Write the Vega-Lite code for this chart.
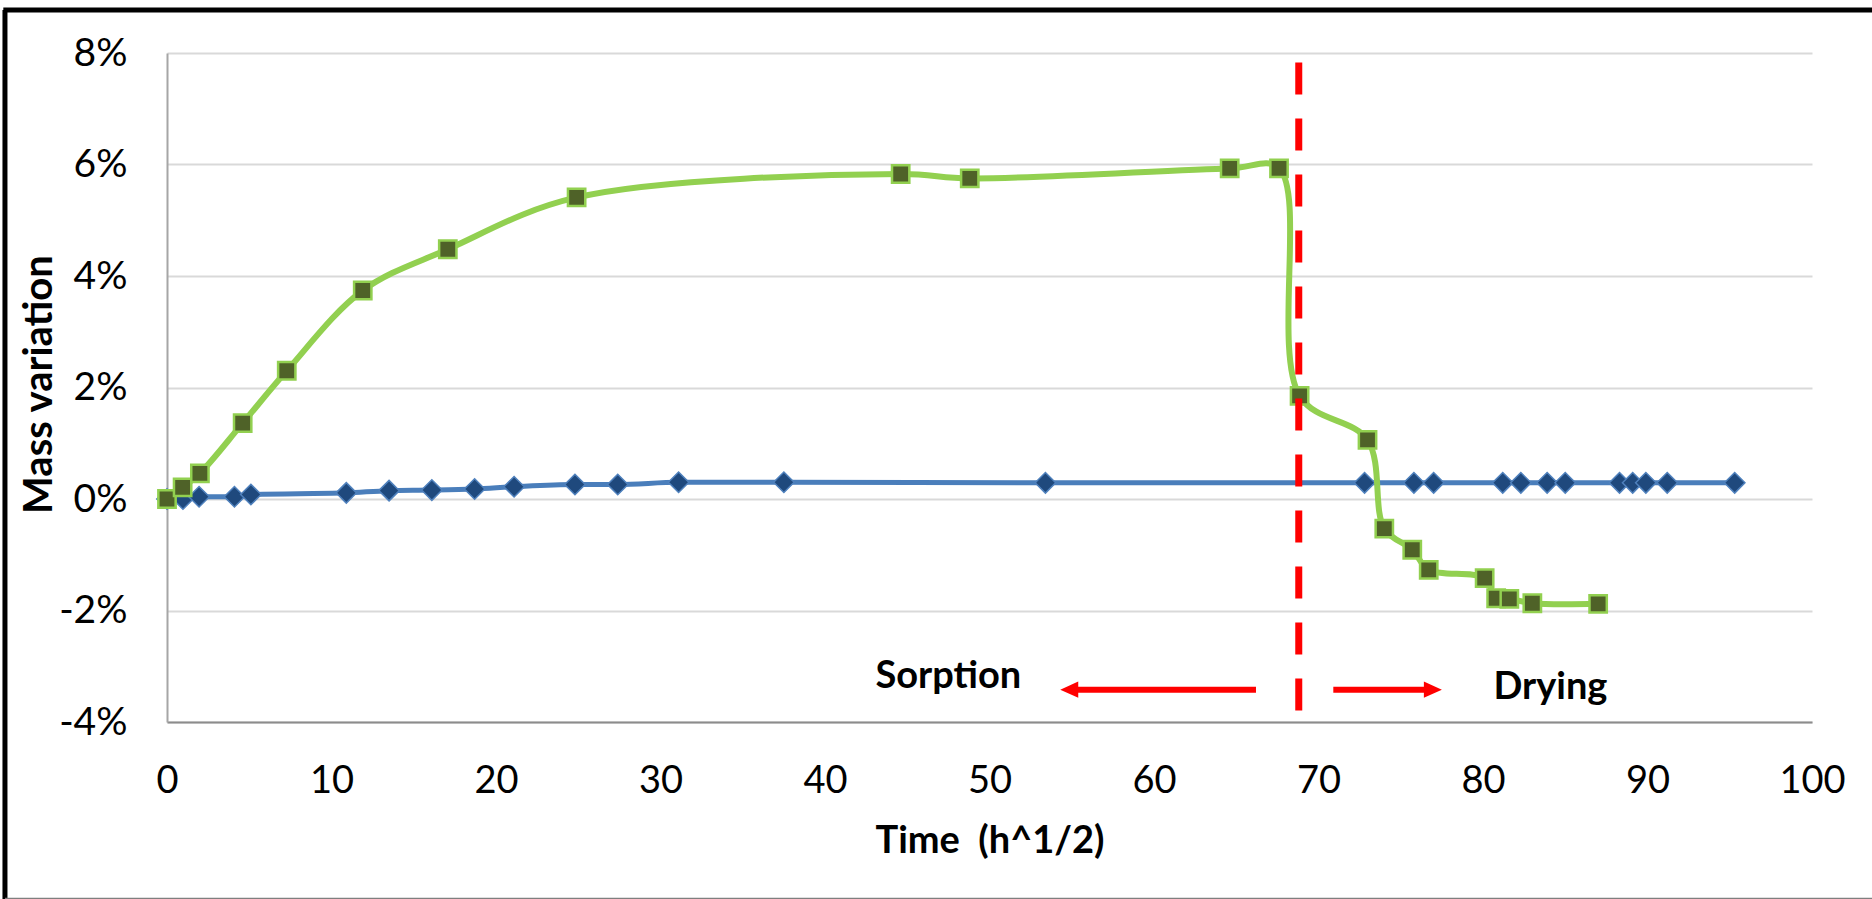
{
  "$schema": "https://vega.github.io/schema/vega-lite/v6.json",
  "width": 1645,
  "height": 669,
  "autosize": {"type": "none"},
  "padding": {"left": 167, "top": 53, "right": 60, "bottom": 177},
  "background": "white",
  "config": {"view": {"stroke": null}, "font": "Lato"},
  "datasets": {
    "blue": [
      {"x": 0, "y": 0.0}, {"x": 0.97, "y": 0.0}, {"x": 1.95, "y": 0.04}, {"x": 4.1, "y": 0.04},
      {"x": 5.1, "y": 0.08}, {"x": 10.9, "y": 0.11}, {"x": 13.5, "y": 0.15}, {"x": 16.1, "y": 0.16},
      {"x": 18.7, "y": 0.18}, {"x": 21.1, "y": 0.22}, {"x": 24.8, "y": 0.26}, {"x": 27.4, "y": 0.26},
      {"x": 31.1, "y": 0.3}, {"x": 37.5, "y": 0.3}, {"x": 53.4, "y": 0.29}, {"x": 72.8, "y": 0.29},
      {"x": 75.8, "y": 0.29}, {"x": 77.0, "y": 0.29}, {"x": 81.2, "y": 0.29}, {"x": 82.3, "y": 0.29},
      {"x": 83.9, "y": 0.29}, {"x": 85.0, "y": 0.29}, {"x": 88.3, "y": 0.29}, {"x": 89.1, "y": 0.29},
      {"x": 89.9, "y": 0.29}, {"x": 91.2, "y": 0.29}, {"x": 95.3, "y": 0.29}
    ],
    "green": [
      {"x": 0, "y": 0.0}, {"x": 0.95, "y": 0.21}, {"x": 2.0, "y": 0.46}, {"x": 4.6, "y": 1.36},
      {"x": 7.28, "y": 2.3}, {"x": 11.9, "y": 3.74}, {"x": 17.07, "y": 4.48}, {"x": 24.9, "y": 5.41},
      {"x": 44.6, "y": 5.83}, {"x": 48.8, "y": 5.75}, {"x": 64.6, "y": 5.93}, {"x": 67.6, "y": 5.93},
      {"x": 68.85, "y": 1.85}, {"x": 72.98, "y": 1.06}, {"x": 74.0, "y": -0.53}, {"x": 75.7, "y": -0.91},
      {"x": 76.7, "y": -1.27}, {"x": 80.1, "y": -1.42}, {"x": 80.8, "y": -1.78}, {"x": 81.6, "y": -1.79},
      {"x": 83.0, "y": -1.87}, {"x": 87.0, "y": -1.88}
    ],
    "divider": [{"x": 68.8, "y": 7.83, "y2": -3.8}],
    "arrows": [{"x": 66.2, "x2": 55.2, "y": -3.42}, {"x": 70.9, "x2": 76.6, "y": -3.42}],
    "heads": [{"x": 54.3, "y": -3.42, "dir": "left"}, {"x": 77.5, "y": -3.42, "dir": "right"}],
    "labels": [{"x": 47.5, "y": -3.39, "label": "Sorption"}, {"x": 84.1, "y": -3.58, "label": "Drying"}],
    "frameV": [{"x": -9.85, "y": 8.77, "y2": -7.3}],
    "frameTop": [{"x": -9.95, "x2": 115, "y": 8.77}],
    "frameBottom": [{"x": -9.85, "x2": 115, "y": -7.17}]
  },
  "encoding": {
    "x": {
      "field": "x", "type": "quantitative", "title": "Time \u00a0(h^1/2)",
      "scale": {"domain": [0, 100], "nice": false, "zero": false},
      "axis": {
        "values": [0, 10, 20, 30, 40, 50, 60, 70, 80, 90, 100],
        "grid": false, "ticks": false, "domainColor": "#8C8C8C", "domainWidth": 2,
        "labelFont": "Lato", "labelFontSize": 38, "labelColor": "#000000", "labelPadding": 40,
        "labelFlush": false, "labelOverlap": false,
        "titleFont": "Lato", "titleFontSize": 38, "titleFontWeight": "bold", "titleColor": "#000000",
        "titleBaseline": "alphabetic", "titleY": 130, "titleX": 822.5
      }
    },
    "y": {
      "field": "y", "type": "quantitative", "title": "Mass variation",
      "scale": {"domain": [-4, 8], "nice": false, "zero": false},
      "axis": {
        "values": [-4, -2, 0, 2, 4, 6, 8], "labelExpr": "datum.value + '%'",
        "grid": true, "gridColor": "#D9D9D9", "gridWidth": 2, "ticks": false,
        "domainColor": "#A6A6A6", "domainWidth": 2,
        "labelFont": "Lato", "labelFontSize": 39, "labelColor": "#000000", "labelPadding": 40,
        "labelFlush": false, "labelOverlap": false,
        "titleFont": "Lato", "titleFontSize": 40, "titleFontWeight": "bold", "titleColor": "#000000",
        "titleBaseline": "alphabetic", "titleAngle": -90, "titleX": -116, "titleY": 331, "titleAlign": "center"
      }
    }
  },
  "layer": [
    {"data": {"name": "frameV"}, "mark": {"type": "rule", "stroke": "#000000", "strokeWidth": 5, "clip": false},
     "encoding": {"y2": {"field": "y2"}}},
    {"data": {"name": "frameTop"}, "mark": {"type": "rule", "stroke": "#000000", "strokeWidth": 5, "clip": false},
     "encoding": {"x2": {"field": "x2"}}},
    {"data": {"name": "frameBottom"}, "mark": {"type": "rule", "stroke": "#7F7F7F", "strokeWidth": 2, "clip": false},
     "encoding": {"x2": {"field": "x2"}}},
    {"data": {"name": "blue"}, "mark": {"type": "line", "stroke": "#4A7EBB", "strokeWidth": 5, "interpolate": "monotone"}},
    {"data": {"name": "blue"}, "mark": {"type": "point", "shape": "diamond", "filled": true, "fill": "#1F497D", "stroke": "#4F81BD", "strokeWidth": 1.5, "size": 420, "opacity": 1}},
    {"data": {"name": "green"}, "mark": {"type": "line", "stroke": "#92D050", "strokeWidth": 6, "interpolate": "catmull-rom"}},
    {"data": {"name": "green"}, "mark": {"type": "point", "shape": "square", "filled": true, "fill": "#4F6228", "stroke": "#92D050", "strokeWidth": 2.5, "size": 300, "opacity": 1}},
    {"data": {"name": "divider"}, "mark": {"type": "rule", "stroke": "#FF0000", "strokeWidth": 7, "strokeDash": [32, 24]},
     "encoding": {"y2": {"field": "y2"}}},
    {"data": {"name": "arrows"}, "mark": {"type": "rule", "stroke": "#FF0000", "strokeWidth": 6},
     "encoding": {"x2": {"field": "x2"}}},
    {"data": {"name": "heads"}, "transform": [{"filter": "datum.dir == 'left'"}],
     "mark": {"type": "point", "shape": "M0,0L2,-0.9L2,0.9Z", "filled": true, "fill": "#FF0000", "strokeWidth": 0, "size": 324, "opacity": 1}},
    {"data": {"name": "heads"}, "transform": [{"filter": "datum.dir == 'right'"}],
     "mark": {"type": "point", "shape": "M0,0L-2,-0.9L-2,0.9Z", "filled": true, "fill": "#FF0000", "strokeWidth": 0, "size": 324, "opacity": 1}},
    {"data": {"name": "labels"}, "mark": {"type": "text", "font": "Lato", "fontSize": 38, "fontWeight": "bold", "align": "center", "baseline": "alphabetic", "color": "#000000"},
     "encoding": {"text": {"field": "label"}}}
  ]
}
